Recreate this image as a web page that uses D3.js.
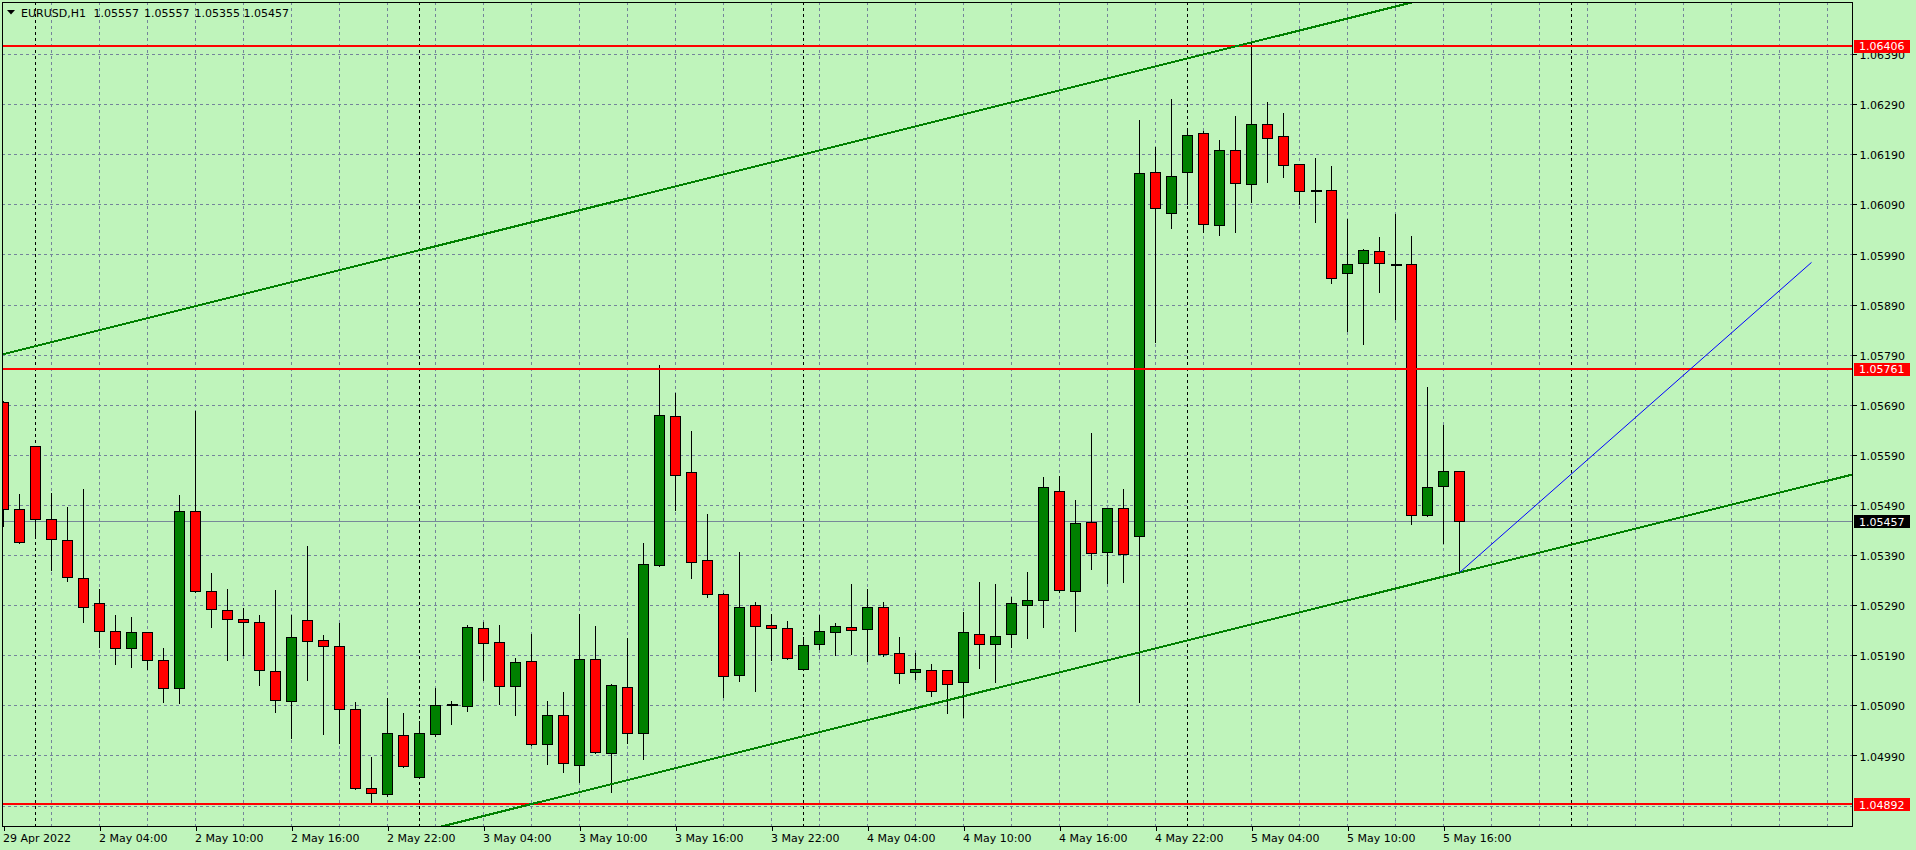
<!DOCTYPE html>
<html><head><meta charset="utf-8">
<script src="https://cdn.jsdelivr.net/npm/d3@7"></script>
<style>
html,body{margin:0;padding:0;background:#bff4bb;overflow:hidden}
svg{display:block}
text{font-family:"DejaVu Sans",Verdana,sans-serif;font-size:11px}
</style></head><body>
<svg id="c" width="1916" height="850"></svg>
<script>
// ---------------- data ----------------
const symbol = "EURUSD,H1";
const firstBar = "2022-04-29T22:00:00Z";
const openP = [1.05695,1.05481,1.05607,1.05461,1.05419,1.05344,1.05294,1.05238,1.05204,1.05236,
 1.05180,1.05124,1.05477,1.05318,1.05280,1.05262,1.05256,1.05158,1.05098,1.05260,
 1.05220,1.05208,1.05082,1.04924,1.04912,1.05030,1.04946,1.05032,1.05092,1.05088,
 1.05244,1.05216,1.05128,1.05178,1.05012,1.05070,1.04970,1.05182,1.04994,1.05126,
 1.05034,1.05371,1.05667,1.05555,1.05381,1.05312,1.05150,1.05290,1.05250,1.05244,
 1.05162,1.05212,1.05236,1.05246,1.05242,1.05286,1.05194,1.05156,1.05160,1.05160,
 1.05136,1.05232,1.05213,1.05232,1.05291,1.05301,1.05517,1.05318,1.05456,1.05395,
 1.05483,1.05428,1.06155,1.06072,1.06154,1.06232,1.06049,1.06198,1.06130,1.06250,
 1.06226,1.06171,1.06119,1.06119,1.05953,1.05973,1.05997,1.05970,1.05971,1.05469,
 1.05528,1.05557];
const highP = [1.05700,1.05513,1.05608,1.05516,1.05488,1.05524,1.05324,1.05272,1.05268,1.05238,
 1.05206,1.05512,1.05679,1.05356,1.05324,1.05286,1.05272,1.05322,1.05272,1.05410,
 1.05232,1.05257,1.05099,1.04989,1.05107,1.05077,1.05060,1.05127,1.05101,1.05252,
 1.05259,1.05252,1.05186,1.05235,1.05101,1.05119,1.05274,1.05250,1.05134,1.05226,
 1.05415,1.05771,1.05715,1.05640,1.05474,1.05316,1.05397,1.05298,1.05274,1.05260,
 1.05228,1.05272,1.05256,1.05334,1.05324,1.05298,1.05228,1.05196,1.05174,1.05162,
 1.05279,1.05338,1.05334,1.05308,1.05358,1.05548,1.05550,1.05502,1.05636,1.05485,
 1.05524,1.06260,1.06206,1.06303,1.06241,1.06239,1.06221,1.06269,1.06413,1.06297,
 1.06275,1.06172,1.06184,1.06169,1.06062,1.06002,1.06026,1.06072,1.06028,1.05728,
 1.05652,1.05557];
const lowP = [1.05448,1.05413,1.05423,1.05360,1.05339,1.05257,1.05207,1.05172,1.05166,1.05163,
 1.05097,1.05095,1.05316,1.05247,1.05181,1.05190,1.05131,1.05077,1.05025,1.05141,
 1.05032,1.05015,1.04922,1.04896,1.04908,1.04967,1.04944,1.05028,1.05053,1.05078,
 1.05141,1.05092,1.05070,1.05010,1.04972,1.04957,1.04936,1.04994,1.04916,1.05014,
 1.04983,1.05369,1.05480,1.05345,1.05307,1.05107,1.05139,1.05119,1.05180,1.05182,
 1.05160,1.05202,1.05190,1.05192,1.05178,1.05188,1.05134,1.05142,1.05108,1.05074,
 1.05066,1.05165,1.05137,1.05206,1.05224,1.05247,1.05316,1.05238,1.05362,1.05335,
 1.05336,1.05096,1.05815,1.06042,1.06090,1.06035,1.06028,1.06034,1.06094,1.06135,
 1.06144,1.06090,1.06054,1.05933,1.05838,1.05811,1.05914,1.05862,1.05452,1.05467,
 1.05414,1.05355];
const closeP = [1.05482,1.05415,1.05461,1.05421,1.05346,1.05286,1.05238,1.05204,1.05236,1.05180,
 1.05124,1.05477,1.05318,1.05282,1.05262,1.05256,1.05160,1.05100,1.05226,1.05218,
 1.05208,1.05082,1.04924,1.04914,1.05034,1.04969,1.05034,1.05090,1.05092,1.05246,
 1.05214,1.05128,1.05176,1.05012,1.05070,1.04974,1.05182,1.04996,1.05130,1.05034,
 1.05373,1.05669,1.05549,1.05377,1.05312,1.05148,1.05286,1.05248,1.05244,1.05184,
 1.05210,1.05238,1.05248,1.05240,1.05286,1.05192,1.05154,1.05162,1.05118,1.05132,
 1.05236,1.05213,1.05229,1.05294,1.05300,1.05525,1.05320,1.05454,1.05393,1.05483,
 1.05391,1.06152,1.06082,1.06147,1.06228,1.06050,1.06198,1.06132,1.06250,1.06223,
 1.06168,1.06116,1.06119,1.05943,1.05971,1.05999,1.05973,1.05970,1.05469,1.05526,
 1.05557,1.05457];

const timeTickIndex = [0,6,12,18,24,30,36,42,48,54,60,66,72,78,84,90];
const timeTickLabels = ["29 Apr 2022","2 May 04:00","2 May 10:00","2 May 16:00","2 May 22:00",
 "3 May 04:00","3 May 10:00","3 May 16:00","3 May 22:00","4 May 04:00","4 May 10:00",
 "4 May 16:00","4 May 22:00","5 May 04:00","5 May 10:00","5 May 16:00"];
const daySeparators = [2,26,50,74,98];
const priceTicks = [1.04990,1.05090,1.05190,1.05290,1.05390,1.05490,1.05590,1.05690,
 1.05790,1.05890,1.05990,1.06090,1.06190,1.06290,1.06390];
const hLevels = [1.06406,1.05761,1.04892];
const bidPrice = 1.05457;
const upperChannel = [[0,1.05791],[78,1.06413]];
const lowerChannel = [[0,1.04630],[91,1.05355]];
const blueLine = [[91,1.05355],[113,1.05974]];

// categories: hourly bar times (weekend skipped)
const barTimes = [];
{ let t = new Date(firstBar);
  while (barTimes.length < openP.length) {
    const d = t.getUTCDay();
    if (d !== 0 && d !== 6) barTimes.push(new Date(t));
    t = new Date(t.getTime() + 3600000);
  } }

// ---------------- layout ----------------
const L = 2, R = 1852, T = 2, B = 826;
const GREEN = "#008000", RED = "#ff0000", GRID = "#74849a", BG = "#bff4bb";

const x = d3.scaleLinear().domain([0, 115]).range([3.5, 3.5 + 16 * 115]);
const y = d3.scaleLinear().domain([1.0489, 1.0639]).range([805.5, 54]);
const px = v => Math.round(v) + 0.5;

const svg = d3.select("#c");
svg.append("rect").attr("width", 1916).attr("height", 850).attr("fill", BG);
svg.append("clipPath").attr("id", "clip").append("rect")
  .attr("x", L).attr("y", T).attr("width", R - L).attr("height", B - T);
const plot = svg.append("g").attr("clip-path", "url(#clip)").attr("shape-rendering", "crispEdges");

// grid: horizontal
plot.append("g").selectAll("line").data(priceTicks.concat([1.04890])).join("line")
  .attr("x1", L).attr("x2", R).attr("y1", d => px(y(d))).attr("y2", d => px(y(d)))
  .attr("stroke", GRID).attr("stroke-dasharray", "3,3");
// grid: vertical every 3 bars
const vGrid = d3.range(3, 116, 3).filter(i => !daySeparators.includes(i));
plot.append("g").selectAll("line").data(vGrid).join("line")
  .attr("x1", d => x(d)).attr("x2", d => x(d)).attr("y1", T).attr("y2", B)
  .attr("stroke", GRID).attr("stroke-dasharray", "3,3");
// day separators
plot.append("g").selectAll("line").data(daySeparators).join("line")
  .attr("x1", d => x(d)).attr("x2", d => x(d)).attr("y1", T).attr("y2", B)
  .attr("stroke", "#000").attr("stroke-dasharray", "3,3");
// bid line
plot.append("line").attr("x1", L).attr("x2", R)
  .attr("y1", px(y(bidPrice))).attr("y2", px(y(bidPrice))).attr("stroke", "#778899");

// candles
const bars = openP.map((o, i) => ({i, o, h: highP[i], l: lowP[i], c: closeP[i], t: barTimes[i]}));
const cg = plot.append("g").selectAll("g").data(bars).join("g");
cg.append("line")
  .attr("x1", d => x(d.i)).attr("x2", d => x(d.i))
  .attr("y1", d => px(y(d.h))).attr("y2", d => px(y(d.l)))
  .attr("stroke", "#000");
cg.each(function(d) {
  const g = d3.select(this);
  const yt = px(y(Math.max(d.o, d.c))), yb = px(y(Math.min(d.o, d.c)));
  if (yb - yt < 1) {
    g.append("line").attr("x1", x(d.i) - 5).attr("x2", x(d.i) + 6)
      .attr("y1", yt).attr("y2", yt).attr("stroke", "#000").attr("stroke-width", 2);
  } else {
    g.append("rect").attr("x", x(d.i) - 5).attr("width", 10)
      .attr("y", yt).attr("height", yb - yt)
      .attr("fill", d.c >= d.o ? GREEN : RED).attr("stroke", "#000");
  }
});

// horizontal levels
plot.append("g").selectAll("line").data(hLevels).join("line")
  .attr("x1", L).attr("x2", R).attr("y1", d => Math.round(y(d))).attr("y2", d => Math.round(y(d)))
  .attr("stroke", RED).attr("stroke-width", 2);

// trend lines (rays extended across the plot)
function ray(pts) {
  const [[i1, p1], [i2, p2]] = pts;
  const s = (p2 - p1) / (i2 - i1);
  const a = -1, b = 120;
  return [[x(a), y(p1 + s * (a - i1))], [x(b), y(p1 + s * (b - i1))]];
}
const lineGen = d3.line();
plot.append("path").attr("d", lineGen(ray(upperChannel)))
  .attr("stroke", GREEN).attr("stroke-width", 2).attr("fill", "none");
plot.append("path").attr("d", lineGen(ray(lowerChannel)))
  .attr("stroke", GREEN).attr("stroke-width", 2).attr("fill", "none");
plot.append("path").attr("d", lineGen(blueLine.map(([i, p]) => [x(i), y(p)])))
  .attr("stroke", "#0000ff").attr("stroke-width", 1).attr("fill", "none")
  .attr("shape-rendering", "auto");

// frame
svg.append("path").attr("d", `M${L + 0.5},${T + 0.5}H${R + 0.5}V${B + 0.5}H${L + 0.5}Z`)
  .attr("fill", "none").attr("stroke", "#000").attr("shape-rendering", "crispEdges");

// right price axis
const yAxis = d3.axisRight(y).tickValues(priceTicks).tickFormat(d3.format(".5f"))
  .tickSize(4).tickPadding(3);
const ya = svg.append("g").attr("transform", `translate(${R + 0.5},0)`).call(yAxis);
ya.select(".domain").remove();
ya.selectAll(".tick line").attr("stroke", "#000").attr("shape-rendering", "crispEdges");
ya.selectAll(".tick text").attr("fill", "#000").attr("dy", "0.42em")
  .style("font-family", '"DejaVu Sans",sans-serif').style("font-size", "11px");

// bottom time axis
const xAxis = d3.axisBottom(x).tickValues(timeTickIndex)
  .tickFormat((d, k) => timeTickLabels[k]).tickSize(4).tickPadding(4);
const xa = svg.append("g").attr("transform", `translate(0,${B + 0.5})`).call(xAxis);
xa.select(".domain").remove();
xa.selectAll(".tick line").attr("stroke", "#000").attr("shape-rendering", "crispEdges");
xa.selectAll(".tick text").attr("fill", "#000").attr("text-anchor", "start").attr("x", -1)
  .style("font-family", '"DejaVu Sans",sans-serif').style("font-size", "11px");

// price labels for levels and bid
function priceLabel(p, fill) {
  const yc = y(p);
  const g = svg.append("g");
  g.append("rect").attr("x", R + 2).attr("y", Math.round(yc) - 6.5).attr("width", 56).attr("height", 13)
    .attr("fill", fill).attr("shape-rendering", "crispEdges");
  g.append("text").attr("x", R + 7).attr("y", yc + 4.3).attr("fill", "#fff").text(d3.format(".5f")(p));
}
hLevels.forEach(p => priceLabel(p, RED));
priceLabel(bidPrice, "#000");

// title
const last = bars[bars.length - 1];
svg.append("path").attr("d", "M7,10H15L11,14.5Z").attr("fill", "#000");
const title = [symbol].concat([last.o, last.h, last.l, last.c].map(d3.format(".5f")));
const titleX = [21, 93.5, 144, 194.5, 243.5];
svg.append("g").selectAll("text").data(title).join("text")
  .attr("x", (d, k) => titleX[k]).attr("y", 16.5).attr("fill", "#000").text(d => d);
</script>
</body></html>
